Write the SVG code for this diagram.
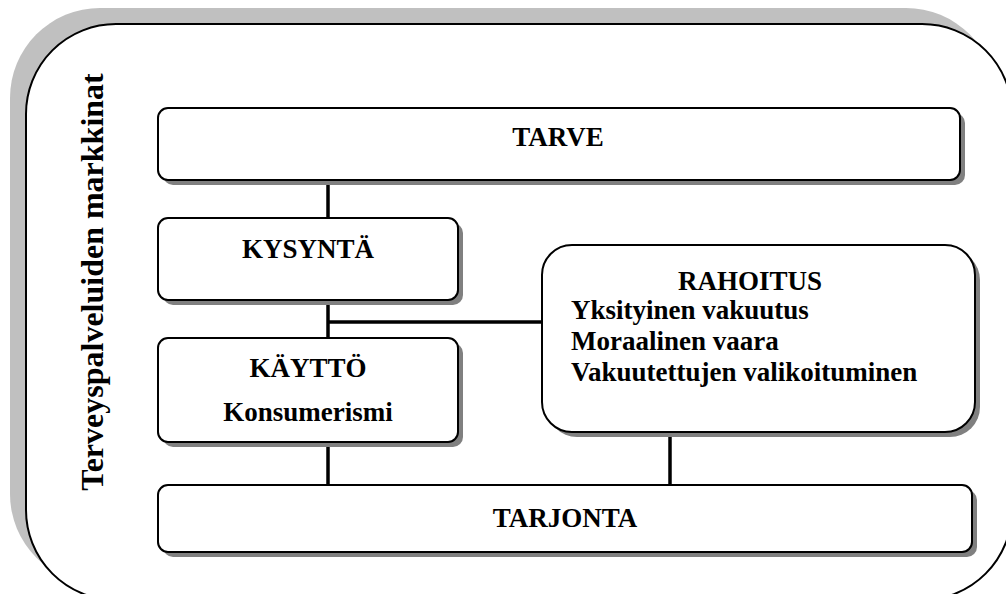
<svg xmlns="http://www.w3.org/2000/svg" width="1006" height="594" viewBox="0 0 1006 594">
<style>
.frame{fill:#fff;stroke:#000;stroke-width:2}
.fshadow{fill:#c0c0c0}
.box{fill:#fff;stroke:#000;stroke-width:2}
.shadow{fill:#808080}
.conn{stroke:#000;stroke-width:3.5;fill:none}
.mid{text-anchor:middle}
</style>
<rect width="1006" height="594" fill="#fff"/>
<g font-family="'Liberation Serif', 'DejaVu Serif', serif" font-weight="bold" font-size="27" fill="#000">
<g id="frame">
<rect class="fshadow" x="10" y="8" width="986" height="576" rx="90" ry="90"/>
<rect class="frame" x="26" y="24" width="986" height="576" rx="90" ry="90"/>
<text class="mid" font-size="32" transform="translate(103,282) rotate(-90)">Terveyspalveluiden markkinat</text>
</g>
<g id="connectors">
<line class="conn" x1="328" y1="180" x2="328" y2="218"/>
<line class="conn" x1="328" y1="300" x2="328" y2="338"/>
<line class="conn" x1="328" y1="322" x2="542" y2="322"/>
<line class="conn" x1="328" y1="442" x2="328" y2="485"/>
<line class="conn" x1="670" y1="432" x2="670" y2="485"/>
</g>
<g id="tarve">
<rect class="shadow" x="163" y="113" width="802" height="72" rx="10"/>
<rect class="box" x="158" y="108" width="802" height="72" rx="10"/>
<text class="mid" x="558" y="146">TARVE</text>
</g>
<g id="kysynta">
<rect class="shadow" x="163" y="223" width="300" height="82" rx="10"/>
<rect class="box" x="158" y="218" width="300" height="82" rx="10"/>
<text class="mid" x="308" y="258">KYSYNTÄ</text>
</g>
<g id="kaytto">
<rect class="shadow" x="163" y="343" width="300" height="104" rx="10"/>
<rect class="box" x="158" y="338" width="300" height="104" rx="10"/>
<text class="mid" x="308" y="377">KÄYTTÖ</text>
<text class="mid" x="308" y="421">Konsumerismi</text>
</g>
<g id="rahoitus">
<rect class="shadow" x="547" y="250" width="433" height="187" rx="30"/>
<rect class="box" x="542" y="245" width="433" height="187" rx="30"/>
<text class="mid" x="750" y="290">RAHOITUS</text>
<text x="571" y="319">Yksityinen vakuutus</text>
<text x="571" y="350">Moraalinen vaara</text>
<text x="571" y="381">Vakuutettujen valikoituminen</text>
</g>
<g id="tarjonta">
<rect class="shadow" x="163" y="490" width="814" height="67" rx="10"/>
<rect class="box" x="158" y="485" width="814" height="67" rx="10"/>
<text class="mid" x="565" y="527">TARJONTA</text>
</g>
</g>
</svg>
